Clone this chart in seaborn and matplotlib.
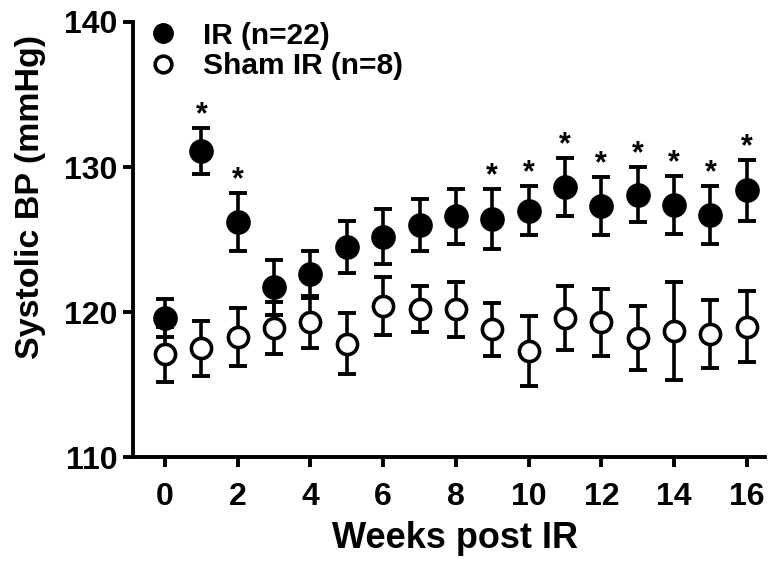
import matplotlib
matplotlib.use("Agg")
import matplotlib.pyplot as plt
import seaborn as sns
import pandas as pd
import numpy as np
from matplotlib.lines import Line2D

weeks = list(range(17))
ir_mean = [119.6, 131.1, 126.2, 121.7, 122.6, 124.5, 125.2, 126.0, 126.6, 126.4,
           127.0, 128.6, 127.3, 128.1, 127.4, 126.7, 128.4]
ir_sem = [1.3, 1.6, 2.0, 1.9, 1.6, 1.8, 1.9, 1.8, 1.9, 2.05, 1.7, 2.0, 2.0, 1.9,
          2.0, 2.0, 2.1]
sham_mean = [117.1, 117.5, 118.3, 118.9, 119.3, 117.8, 120.4, 120.2, 120.2, 118.8,
             117.3, 119.6, 119.3, 118.2, 118.7, 118.5, 119.0]
sham_sem = [1.9, 1.9, 2.0, 1.8, 1.8, 2.1, 2.0, 1.6, 1.9, 1.8, 2.4, 2.2, 2.3, 2.2,
            3.4, 2.35, 2.45]
sig_weeks = [1, 2, 9, 10, 11, 12, 13, 14, 15, 16]
series_labels = ["IR (n=22)", "Sham IR (n=8)"]
x_ticks = [0, 2, 4, 6, 8, 10, 12, 14, 16]
y_ticks = [110, 120, 130, 140]

sns.set_theme(style="ticks")
plt.rcParams['font.family'] = ['Liberation Sans', 'DejaVu Sans']
plt.rcParams['font.weight'] = 'bold'
plt.rcParams['text.color'] = 'black'
plt.rcParams['axes.labelcolor'] = 'black'

df = pd.DataFrame({
    "week": weeks * 2,
    "bp": ir_mean + sham_mean,
    "err": ir_sem + sham_sem,
    "group": [series_labels[0]] * len(weeks) + [series_labels[1]] * len(weeks),
})

fig = plt.figure(figsize=(7.75, 5.64), dpi=100)
ax = fig.add_axes([0.1716, 0.1897, 0.987 - 0.1716, 0.961 - 0.1897])

# error bars (sham first, IR on top)
for g, z in [(series_labels[1], 2), (series_labels[0], 4)]:
    d = df[df["group"] == g]
    ax.errorbar(d["week"], d["bp"], yerr=d["err"], fmt='none', ecolor='black',
                elinewidth=2.6, capsize=6.2, capthick=2.8, zorder=z)

d_sham = df[df["group"] == series_labels[1]]
d_ir = df[df["group"] == series_labels[0]]
sns.scatterplot(data=d_sham, x="week", y="bp", ax=ax, marker='o', s=210,
                facecolor='white', edgecolor='black', linewidth=2.6, zorder=3,
                legend=False)
sns.scatterplot(data=d_ir, x="week", y="bp", ax=ax, marker='o', s=280,
                color='black', edgecolor='black', linewidth=1, zorder=5,
                legend=False)

# significance stars
for w in sig_weeks:
    top = ir_mean[w] + ir_sem[w]
    ax.annotate('*', (w, top), xytext=(0, -1.5), textcoords='offset points',
                ha='center', va='bottom', fontsize=22, fontweight='bold',
                color='black')

ax.set_xlim(-0.88, 16.5)
ax.set_ylim(110, 140)
ax.set_xticks(x_ticks)
ax.set_yticks(y_ticks)
ax.tick_params(axis='both', which='major', width=2.8, length=7, color='black',
               labelsize=23, labelcolor='black')
ax.tick_params(axis='x', pad=11)
ax.tick_params(axis='y', pad=4)
for lab in ax.get_xticklabels() + ax.get_yticklabels():
    lab.set_fontweight('bold')
for s in ['top', 'right']:
    ax.spines[s].set_visible(False)
for s in ['left', 'bottom']:
    ax.spines[s].set_linewidth(2.8)
    ax.spines[s].set_color('black')

ax.set_xlabel("Weeks post IR", fontsize=26, fontweight='bold', labelpad=8,
              color='black')
ax.xaxis.set_label_coords(0.51, -0.146)
ax.xaxis.label.set_verticalalignment('top')
ax.set_ylabel("Systolic BP (mmHg)", fontsize=24.5, fontweight='bold',
              color='black')
ax.yaxis.set_label_coords(-0.138, 0.598)

handles = [Line2D([], [], marker='o', linestyle='none', markersize=14,
                  markerfacecolor='black', markeredgecolor='black'),
           Line2D([], [], marker='o', linestyle='none', markersize=12,
                  markerfacecolor='white', markeredgecolor='black', markeredgewidth=2.6)]
leg = ax.legend(handles, series_labels, loc='upper left', frameon=False,
                prop={'size': 21.5, 'weight': 'bold'}, handletextpad=0.75,
                borderaxespad=0.0, bbox_to_anchor=(0.0, 1.028), labelspacing=0.08,
                handlelength=1.2)

fig.savefig("out.png", dpi=100)
